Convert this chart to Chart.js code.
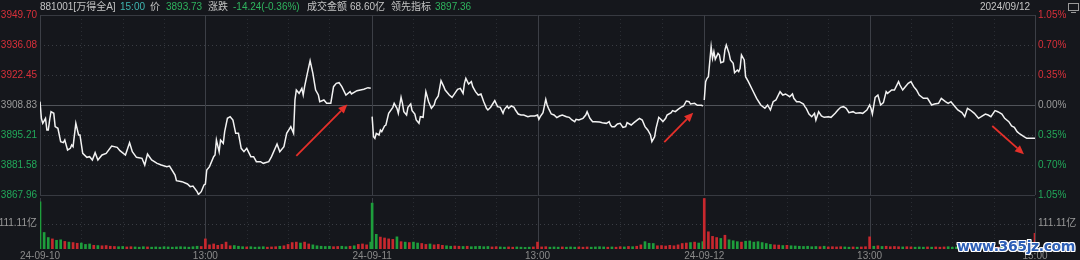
<!DOCTYPE html>
<html>
<head>
<meta charset="utf-8">
<script src="https://cdn.jsdelivr.net/npm/chart.js@4.4.0/dist/chart.umd.min.js"></script>
<style>
html, body { margin: 0; padding: 0; background: #15171c; }
#wrap { position: relative; width: 1080px; height: 260px; overflow: hidden; background: #15171c;
        font-family: "Liberation Sans", "Noto Sans CJK SC", sans-serif; }
canvas { position: absolute; left: 0; }
#cPrice { top: 0; }
#cVol { top: 189px; }
.hd { position: absolute; top: 0; font-size: 10px; line-height: 14px; color: #c4c4c4; white-space: nowrap; }
.g { color: #2fb35e; }
.t { color: #3fb6b0; }
#icon { position: absolute; left: 1068px; top: 3px; width: 9px; height: 6px; border: 1px solid #9a9a9a; }
#icon:after { content: ""; position: absolute; left: 2px; top: 8px; width: 5px; height: 1px; background: #9a9a9a; }
#wm { position: absolute; left: 957px; top: 238px; font: bold 14px "DejaVu Sans", sans-serif; letter-spacing: -0.4px;
      color: #2d5fb6; text-shadow: 1px 0 #fff, -1px 0 #fff, 0 1px #fff, 0 -1px #fff, 1px 1px #fff, -1px -1px #fff, 1px -1px #fff, -1px 1px #fff; }
</style>
</head>
<body>
<div id="wrap">
  <canvas id="cPrice" width="1080" height="206"></canvas>
  <canvas id="cVol" width="1080" height="71"></canvas>

  <span class="hd" style="left:40px">881001[万得全A]</span>
  <span class="hd t" style="left:120px">15:00</span>
  <span class="hd" style="left:150px">价</span>
  <span class="hd g" style="left:166px">3893.73</span>
  <span class="hd" style="left:208px">涨跌</span>
  <span class="hd g" style="left:233px">-14.24(-0.36%)</span>
  <span class="hd" style="left:307px">成交金额</span>
  <span class="hd" style="left:350px">68.60亿</span>
  <span class="hd" style="left:391px">领先指标</span>
  <span class="hd g" style="left:435px">3897.36</span>
  <span class="hd" style="left:980px">2024/09/12</span>
  <div id="icon"></div>
  <div id="wm">www.365jz.com</div>
</div>

<script>
// ---- data ----
// axis ticks
const priceTicks = [3867.96, 3881.58, 3895.21, 3908.83, 3922.45, 3936.08, 3949.70];
const pctLabels = ["1.05%", "0.70%", "0.35%", "0.00%", "0.35%", "0.70%", "1.05%"];
const refClose = 3908.83;
const volMax = 222.22;
const volTick = 111.11;
const volTickLabel = "111.11亿";

// time axis: minute index over three sessions of 241 minutes
const dayLen = 241;
const timeTickPos = [0, 120, 241, 361, 482, 602, 722];
const timeTickLabels = ["24-09-10", "13:00", "24-09-11", "13:00", "24-09-12", "13:00", "15:00"];
const halfHourMarks = [30, 60, 90, 150, 180, 210];

// price series: [minute of session, price]
const day1 = [[0,3910.34],[1,3902.78],[2,3900.50],[4,3902.78],[5,3897.48],[6,3897.48],[7,3902.02],[8,3905.80],[10,3905.05],[11,3899.00],
  [13,3898.24],[15,3892.18],[17,3891.73],[18,3892.94],[20,3888.40],[22,3889.15],[23,3890.67],[24,3889.91],[26,3900.50],[28,3895.21],
  [29,3895.21],[31,3886.88],[34,3885.07],[36,3885.37],[38,3883.86],[40,3887.19],[42,3883.86],[45,3886.13],[48,3886.88],[52,3890.21],
  [56,3889.61],[58,3888.10],[62,3886.13],[65,3891.73],[67,3887.64],[70,3885.07],[74,3884.61],[76,3881.58],[78,3886.58],[81,3883.86],
  [85,3882.34],[88,3881.58],[92,3880.83],[94,3881.13],[98,3877.04],[99,3874.47],[103,3874.01],[107,3872.96],[109,3871.75],[111,3872.05],
  [114,3869.47],[115,3868.20],[117,3869.47],[119,3872.50],[120,3872.96],[121,3879.31],[123,3880.83],[126,3885.37],[127,3886.13],[128,3892.94],
  [130,3887.64],[131,3892.94],[133,3891.42],[134,3896.72],[136,3902.78],[138,3903.53],[140,3902.02],[142,3895.96],[144,3895.96],[146,3889.15],
  [148,3887.64],[150,3889.15],[153,3885.37],[155,3885.37],[157,3883.10],[160,3883.10],[162,3882.34],[166,3883.10],[168,3885.37],[172,3891.12],
  [174,3887.64],[177,3889.91],[179,3895.96],[182,3899.00],[184,3895.96],[185,3911.10],[186,3915.64],[188,3914.13],[190,3916.40],[191,3913.37],
  [192,3917.16],[194,3923.21],[196,3928.96],[198,3923.21],[200,3915.64],[202,3913.37],[203,3910.34],[206,3911.10],[208,3909.59],[211,3909.59],
  [213,3917.16],[215,3918.67],[217,3918.97],[219,3917.16],[222,3913.37],[225,3914.89],[226,3913.83],[230,3915.34],[235,3915.95],[238,3916.70],
  [240,3916.40]];

const day2 = [[0,3903.53],[1,3894.45],[2,3893.69],[3,3895.96],[5,3895.21],[6,3897.48],[7,3896.72],[9,3899.29],[10,3899.75],[12,3905.05],
  [15,3907.77],[16,3909.59],[18,3907.32],[19,3905.05],[21,3912.31],[22,3909.59],[23,3905.80],[25,3904.29],[26,3907.77],[28,3909.28],
  [29,3906.26],[31,3904.74],[32,3902.02],[34,3900.50],[35,3903.53],[37,3903.23],[38,3909.59],[39,3914.89],[41,3910.34],[43,3907.32],
  [45,3908.83],[46,3911.10],[48,3912.92],[50,3919.88],[52,3917.16],[53,3915.64],[56,3913.37],[58,3912.31],[60,3914.13],[62,3915.95],
  [64,3916.40],[66,3914.13],[67,3918.67],[68,3920.94],[70,3918.37],[72,3919.43],[73,3917.16],[75,3914.89],[77,3913.37],[79,3913.83],
  [81,3910.34],[83,3907.32],[84,3906.56],[86,3907.77],[87,3908.83],[89,3910.80],[91,3908.07],[93,3907.77],[95,3905.05],[96,3906.86],
  [98,3908.38],[99,3907.32],[101,3908.38],[103,3907.77],[104,3906.56],[106,3904.74],[108,3904.29],[110,3904.29],[113,3903.53],[115,3903.83],
  [118,3903.83],[120,3904.29],[121,3902.32],[122,3903.53],[124,3905.35],[126,3911.40],[127,3908.83],[128,3907.32],[130,3904.74],[132,3904.29],
  [134,3903.08],[136,3903.83],[138,3904.29],[141,3903.53],[143,3903.23],[145,3902.02],[147,3901.26],[148,3902.32],[150,3902.02],[153,3902.78],
  [155,3904.29],[156,3905.80],[158,3902.78],[160,3901.26],[162,3901.26],[165,3901.11],[167,3900.81],[170,3900.50],[172,3901.26],[173,3899.75],
  [174,3899.00],[176,3899.00],[178,3900.20],[180,3900.50],[182,3898.69],[184,3899.00],[185,3900.81],[188,3899.75],[190,3900.81],[193,3902.32],
  [194,3902.78],[196,3902.02],[198,3899.00],[200,3897.48],[202,3895.21],[203,3892.18],[205,3894.45],[206,3898.24],[208,3903.23],[210,3902.02],
  [211,3901.26],[213,3902.78],[214,3904.29],[217,3905.35],[218,3906.26],[220,3905.80],[222,3906.86],[224,3907.77],[226,3908.38],[228,3910.65],
  [230,3910.34],[231,3909.28],[234,3909.59],[236,3908.68],[239,3908.68],[240,3908.38]];

const day3 = [[0,3911.10],[1,3919.43],[2,3920.94],[3,3921.70],[5,3935.32],[6,3930.02],[7,3933.05],[8,3929.57],[10,3932.29],[11,3931.54],
  [12,3928.06],[14,3928.51],[15,3933.81],[16,3936.08],[18,3932.29],[19,3929.27],[21,3927.75],[22,3923.51],[24,3924.72],[25,3923.97],
  [26,3925.48],[27,3931.54],[29,3929.27],[30,3921.70],[32,3919.43],[35,3915.64],[38,3911.86],[41,3908.83],[44,3907.32],[46,3908.83],
  [48,3906.56],[50,3910.34],[52,3911.10],[55,3914.89],[57,3913.37],[59,3913.83],[62,3912.61],[64,3913.83],[65,3911.86],[67,3910.34],
  [69,3910.34],[72,3909.28],[73,3908.07],[74,3907.32],[76,3904.74],[78,3903.53],[80,3905.05],[81,3902.02],[83,3905.80],[85,3903.83],
  [87,3903.23],[90,3903.53],[92,3903.23],[95,3905.05],[97,3906.56],[99,3907.77],[101,3908.07],[103,3907.32],[105,3905.35],[108,3905.80],
  [110,3905.05],[113,3905.35],[115,3905.05],[118,3906.56],[120,3908.83],[121,3907.32],[122,3904.74],[124,3912.31],[126,3913.37],[128,3908.83],
  [130,3909.89],[132,3914.89],[133,3914.13],[136,3915.64],[138,3915.64],[141,3919.43],[142,3917.91],[144,3915.64],[145,3916.40],[148,3918.67],
  [150,3919.43],[152,3917.16],[154,3915.64],[156,3913.37],[159,3911.86],[162,3911.86],[165,3908.83],[167,3909.28],[170,3909.59],[172,3911.86],
  [175,3910.34],[177,3909.59],[179,3910.34],[182,3908.07],[184,3906.56],[187,3905.35],[189,3903.53],[191,3907.32],[193,3906.56],[196,3905.05],
  [199,3902.78],[201,3903.53],[204,3904.74],[206,3904.29],[208,3903.53],[211,3906.26],[213,3905.80],[216,3904.74],[218,3902.78],[221,3901.26],
  [223,3899.29],[225,3898.69],[227,3896.72],[229,3895.66],[232,3894.45],[234,3893.69],[238,3893.69],[240,3893.73]];

// volume per minute (亿), sampled every 3 minutes
const volStep = 3;
const vol1 = [206,72,50,44,38,40,33,30,28,25,
  26,20,22,16,15,14,15,12,11,10,
  11,9,10,9,8,10,9,8,9,8,
  10,9,8,9,10,9,8,10,12,11,
  44,18,22,16,20,30,14,15,12,10,
  9,10,8,9,10,8,9,10,12,14,
  20,28,30,26,30,22,18,14,12,11,
  12,10,11,12,10,12,14,20,22,18,
  30];
const vol2 = [200,64,52,48,44,42,53,32,30,28,
  30,26,24,20,22,18,20,16,14,12,
  13,12,11,12,10,11,12,10,11,9,
  10,9,8,9,8,9,8,7,8,9,
  30,9,10,8,9,8,9,8,9,8,
  9,8,9,8,9,10,9,8,9,8,
  10,9,11,10,12,18,32,25,24,14,
  15,13,16,14,18,24,26,28,30,26,
  32];
const vol3 = [220,75,55,50,46,60,40,36,32,30,
  34,35,30,32,28,24,20,18,17,15,
  16,14,13,12,11,12,10,11,10,12,
  9,10,9,10,9,8,9,8,9,10,
  53,12,14,11,12,10,11,10,9,10,
  9,8,9,8,9,8,9,8,9,10,
  8,9,10,9,8,9,10,9,8,9,
  8,9,8,9,8,9,8,9,8,9,
  68];

// close before the first session (opening bar is down)
const firstPrevClose = 3911.5;

// red arrows: [global minute, price]
const arrowTail = [[186, 3885.7], [453, 3892.0], [691, 3899.3]];
const arrowTip = [[223, 3909.1], [474, 3905.3], [714, 3886.5]];

// ---- colours ----
const RED = "#d8303a";
const GREEN = "#22a85a";
const GRAY = "#9a9a9a";
const BAR_RED = "#c8282e";
const BAR_GREEN = "#1e9e3c";

Chart.defaults.font.family = '"Liberation Sans", "Noto Sans CJK SC", sans-serif';
Chart.defaults.font.size = 10;

const days = [day1, day2, day3];
const vols = [vol1, vol2, vol3];

function priceAt(series, m) {
    for (let i = 1; i < series.length; i++) {
        if (series[i][0] >= m) {
            const [t0, p0] = series[i - 1], [t1, p1] = series[i];
            return p0 + (p1 - p0) * (m - t0) / (t1 - t0);
        }
    }
    return series[series.length - 1][1];
}

function labelColor(v) {
    if (Math.abs(v - refClose) < 0.01) return GRAY;
    return v > refClose ? RED : GREEN;
}

// bars, coloured by price move over the bucket
const bars = [];
vols.forEach((vol, d) => {
    const series = days[d];
    vol.forEach((v, i) => {
        const m = i * volStep;
        const prev = m === 0
            ? (d === 0 ? firstPrevClose : days[d - 1][days[d - 1].length - 1][1])
            : priceAt(series, m - volStep);
        bars.push({ x: d * dayLen + m, y: v, up: priceAt(series, m) >= prev });
    });
});

// grid drawn by hand so the dotted / solid mix matches
const gridPlugin = {
    id: "grid",
    beforeDatasetsDraw(chart, args, opts) {
        const { ctx, chartArea: a, scales } = chart;
        const x = scales.x, y = scales[opts.yId];
        const line = (x0, y0, x1, y1, color, dash) => {
            ctx.beginPath();
            ctx.strokeStyle = color;
            ctx.setLineDash(dash || []);
            ctx.moveTo(x0, y0);
            ctx.lineTo(x1, y1);
            ctx.stroke();
        };
        ctx.save();
        ctx.lineWidth = 1;
        // half-hour dotted verticals
        for (let d = 0; d < 3; d++) {
            halfHourMarks.forEach(m => {
                const px = Math.round(x.getPixelForValue(d * dayLen + m)) + 0.5;
                line(px, a.top, px, a.bottom, "#2a2d33", [1, 3]);
            });
        }
        // horizontals
        opts.dotted.forEach(v => {
            const py = Math.round(y.getPixelForValue(v)) + 0.5;
            line(a.left, py, a.right, py, "#3a3d44", [1, 3]);
        });
        opts.solid.forEach(v => {
            const py = Math.round(y.getPixelForValue(v)) + 0.5;
            line(a.left, py, a.right, py, v === refClose ? "#505359" : "#373a41");
        });
        // session / lunch verticals
        timeTickPos.forEach(t => {
            const px = Math.round(x.getPixelForValue(t)) + 0.5;
            line(px, a.top, px, a.bottom, "#3c3f46");
        });
        ctx.restore();
    }
};

const arrowPlugin = {
    id: "arrows",
    afterDatasetsDraw(chart) {
        const { ctx, scales: { x, y } } = chart;
        ctx.save();
        ctx.strokeStyle = ctx.fillStyle = "#e5302a";
        arrowTail.forEach((tail, i) => {
            const x0 = x.getPixelForValue(tail[0]), y0 = y.getPixelForValue(tail[1]);
            const x1 = x.getPixelForValue(arrowTip[i][0]), y1 = y.getPixelForValue(arrowTip[i][1]);
            const ang = Math.atan2(y1 - y0, x1 - x0);
            const hl = 9, hw = 4;
            const bx = x1 - hl * Math.cos(ang), by = y1 - hl * Math.sin(ang);
            ctx.lineWidth = 1.8;
            ctx.beginPath();
            ctx.moveTo(x0, y0);
            ctx.lineTo(bx, by);
            ctx.stroke();
            ctx.beginPath();
            ctx.moveTo(x1, y1);
            ctx.lineTo(bx + hw * Math.sin(ang), by - hw * Math.cos(ang));
            ctx.lineTo(bx - hw * Math.sin(ang), by + hw * Math.cos(ang));
            ctx.closePath();
            ctx.fill();
        });
        ctx.restore();
    }
};

const sideAxis = (position, width, labelFn, colorFn, min, max, ticks) => ({
    position: position,
    min: min,
    max: max,
    afterBuildTicks: s => { s.ticks = ticks.map(v => ({ value: v })); },
    afterFit: s => { s.width = width; },
    grid: { display: false, drawTicks: false },
    border: { display: false },
    ticks: { padding: 3, autoSkip: false, color: colorFn, callback: labelFn }
});

// price panel
new Chart(document.getElementById("cPrice"), {
    type: "line",
    data: {
        datasets: days.map((series, d) => ({
            data: series.map(p => ({ x: d * dayLen + p[0], y: p[1] })),
            borderColor: "#f2f2f2",
            borderWidth: 1.5,
            pointRadius: 0,
            tension: 0
        }))
    },
    options: {
        responsive: false,
        animation: false,
        layout: { padding: { top: 15, bottom: 11, left: 0, right: 0 } },
        plugins: {
            legend: { display: false },
            tooltip: { enabled: false },
            grid: { yId: "y", dotted: [3881.58, 3895.21, 3922.45, 3936.08], solid: [3867.96, 3908.83, 3949.70] }
        },
        scales: {
            x: { type: "linear", min: 0, max: 722, display: false, offset: false },
            y: sideAxis("left", 40, v => v.toFixed(2), c => labelColor(c.tick.value),
                priceTicks[0], priceTicks[6], priceTicks),
            pct: sideAxis("right", 45, (v, i) => pctLabels[i], c => labelColor(c.tick.value),
                priceTicks[0], priceTicks[6], priceTicks)
        }
    },
    plugins: [gridPlugin, arrowPlugin]
});

// volume panel
new Chart(document.getElementById("cVol"), {
    type: "bar",
    data: {
        datasets: [{
            data: bars,
            backgroundColor: c => (c.raw && c.raw.up ? BAR_RED : BAR_GREEN),
            borderWidth: 0,
            barThickness: 2
        }]
    },
    options: {
        responsive: false,
        animation: false,
        layout: { padding: { top: 6, left: 0, right: 0, bottom: 0 } },
        plugins: {
            legend: { display: false },
            tooltip: { enabled: false },
            grid: { yId: "y", dotted: [volTick], solid: [] }
        },
        scales: {
            x: {
                type: "linear", min: 0, max: 722, offset: false,
                afterBuildTicks: s => { s.ticks = timeTickPos.map(v => ({ value: v })); },
                afterFit: s => { s.height = 11; },
                grid: { display: false, drawTicks: false },
                border: { display: false },
                ticks: { autoSkip: false, maxRotation: 0, padding: 1, color: "#8a8a8a",
                         callback: (v, i) => timeTickLabels[i] }
            },
            y: sideAxis("left", 40, () => volTickLabel, GRAY, 0, volMax, [volTick]),
            yr: sideAxis("right", 45, () => volTickLabel, GRAY, 0, volMax, [volTick])
        }
    },
    plugins: [gridPlugin]
});
</script>
</body>
</html>
